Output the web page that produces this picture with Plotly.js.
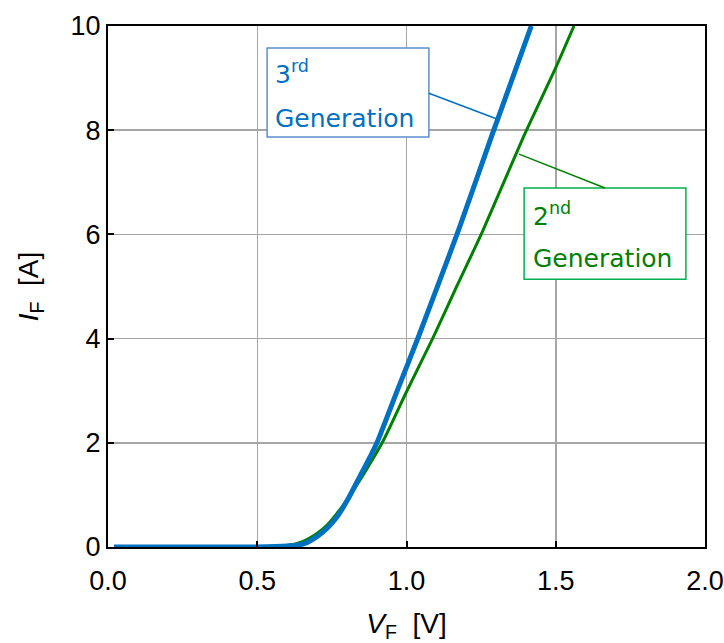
<!DOCTYPE html>
<html>
<head>
<meta charset="utf-8">
<script src="https://cdn.plot.ly/plotly-3.0.1.min.js"></script>
<style>
  html, body { margin: 0; padding: 0; background: #ffffff; }
  #chart { width: 724px; height: 643px; }
</style>
</head>
<body>
<div id="chart"></div>
<script>
// Forward voltage [V] and forward current [A]
const gen3V = [0.02, 0.30, 0.50, 0.60, 0.655, 0.70, 0.734, 0.77, 0.805, 0.846, 0.879, 0.901, 0.969, 1.041, 1.107, 1.1755, 1.289, 1.418];
const gen3I = [0.00, 0.00, 0.00, 0.02, 0.06, 0.20, 0.36, 0.60, 0.93, 1.38, 1.74, 2.00, 3.00, 4.05, 5.05, 6.10, 7.95, 10.00];

const gen2V = [0.02, 0.30, 0.50, 0.60, 0.65, 0.70, 0.734, 0.79, 0.846, 0.88, 0.923, 1.00, 1.089, 1.168, 1.254, 1.394, 1.50, 1.561];
const gen2I = [0.00, 0.00, 0.00, 0.03, 0.10, 0.26, 0.42, 0.82, 1.30, 1.62, 2.05, 2.98, 4.02, 5.00, 6.05, 7.90, 9.20, 10.00];

const xTicks = [0, 0.5, 1.0, 1.5, 2.0];
const yTicks = [0, 2, 4, 6, 8, 10];

const labelFont = 'DejaVu Sans, Verdana, sans-serif';
const axisFont = 'Liberation Sans, Arial, sans-serif';
const blue = '#0070c0';
const green = '#008000';

const traces = [
  { x: gen2V, y: gen2I, mode: 'lines', name: '2nd Generation',
    line: { color: green, width: 3, shape: 'spline', smoothing: 0.6 }, hoverinfo: 'skip' },
  { x: gen3V, y: gen3I, mode: 'lines', name: '3rd Generation',
    line: { color: blue, width: 5, shape: 'spline', smoothing: 0.6 }, hoverinfo: 'skip' }
];

const layout = {
  width: 724, height: 643,
  margin: { l: 108, r: 19, t: 26, b: 96, pad: 0 },
  paper_bgcolor: '#ffffff', plot_bgcolor: '#ffffff',
  showlegend: false,
  font: { family: axisFont, size: 26, color: '#000000' },
  xaxis: {
    range: [0, 2], tickvals: xTicks, ticktext: xTicks.map(v => v.toFixed(1)),
    showgrid: true, gridcolor: '#a6a6a6', gridwidth: 1.5,
    zeroline: false, showline: true, linecolor: '#000000', linewidth: 2, mirror: true,
    ticks: 'inside', ticklen: 6, tickwidth: 2, tickcolor: '#000000',
    ticklabelstandoff: 9,
    tickfont: { family: axisFont, size: 27, color: '#000000' },
    title: { text: '<i>V</i><sub>F</sub>&nbsp;&nbsp;[V]', font: { family: axisFont, size: 28, color: '#000000' }, standoff: 18 },
    automargin: false, fixedrange: true
  },
  yaxis: {
    range: [0, 10], tickvals: yTicks,
    showgrid: true, gridcolor: '#a6a6a6', gridwidth: 1.5,
    zeroline: false, showline: true, linecolor: '#000000', linewidth: 2, mirror: true,
    ticks: 'inside', ticklen: 6, tickwidth: 2, tickcolor: '#000000',
    tickfont: { family: axisFont, size: 27, color: '#000000' },
    title: { text: '<i>I</i><sub>F</sub>&nbsp;&nbsp;[A]', font: { family: axisFont, size: 28, color: '#000000' }, standoff: 24 },
    automargin: false, fixedrange: true
  },
  shapes: [
    { type: 'rect', xref: 'x', yref: 'y', x0: 0.533, x1: 1.075, y0: 7.87, y1: 9.58,
      line: { color: '#5b8fcf', width: 1.5 }, fillcolor: '#ffffff', layer: 'above' },
    { type: 'line', xref: 'x', yref: 'y', x0: 1.075, y0: 8.71, x1: 1.303, y1: 8.215,
      line: { color: blue, width: 1.5 }, layer: 'above' },
    { type: 'rect', xref: 'x', yref: 'y', x0: 1.394, x1: 1.936, y0: 5.14, y1: 6.89,
      line: { color: '#00b050', width: 1.5 }, fillcolor: '#ffffff', layer: 'above' },
    { type: 'line', xref: 'x', yref: 'y', x0: 1.665, y0: 6.89, x1: 1.377, y1: 7.54,
      line: { color: green, width: 1.5 }, layer: 'above' }
  ],
  annotations: [
    { text: '3<sup>rd</sup>', x: 0.552, y: 9.10, xref: 'x', yref: 'y', xanchor: 'left', yanchor: 'middle',
      showarrow: false, font: { family: labelFont, size: 25, color: blue } },
    { text: 'Generation', x: 0.552, y: 8.22, xref: 'x', yref: 'y', xanchor: 'left', yanchor: 'middle',
      showarrow: false, font: { family: labelFont, size: 25, color: blue } },
    { text: '2<sup>nd</sup>', x: 1.416, y: 6.38, xref: 'x', yref: 'y', xanchor: 'left', yanchor: 'middle',
      showarrow: false, font: { family: labelFont, size: 25, color: green } },
    { text: 'Generation', x: 1.416, y: 5.54, xref: 'x', yref: 'y', xanchor: 'left', yanchor: 'middle',
      showarrow: false, font: { family: labelFont, size: 25, color: green } }
  ]
};

Plotly.newPlot('chart', traces, layout, { staticPlot: true, displayModeBar: false });
</script>
</body>
</html>
